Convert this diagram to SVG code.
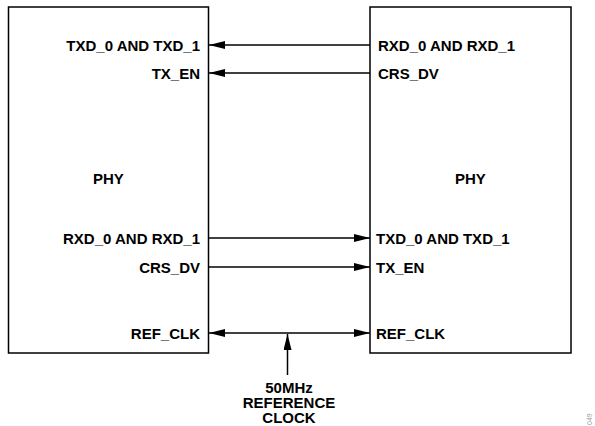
<svg xmlns="http://www.w3.org/2000/svg" width="595" height="426" viewBox="0 0 595 426">
<style>
.box{fill:#fff;stroke:#000;stroke-width:1.5}
.lbl{font-family:"Liberation Sans",Arial,sans-serif;font-weight:bold;font-size:15px;fill:#000}
.end{text-anchor:end}
.mid{text-anchor:middle}
.wire{stroke:#000;stroke-width:1.5;fill:none}
</style>
<defs>
<marker id="ah" markerWidth="16" markerHeight="8" refX="16" refY="4" orient="auto" markerUnits="userSpaceOnUse">
<path d="M0,0 L16,4 L0,8 Z" fill="#000"/>
</marker>
<marker id="ahs" markerWidth="16" markerHeight="8" refX="16" refY="4" orient="auto-start-reverse" markerUnits="userSpaceOnUse">
<path d="M0,0 L16,4 L0,8 Z" fill="#000"/>
</marker>
</defs>
<g id="phy-left">
<rect class="box" x="8.5" y="7" width="200" height="346"/>
<text class="lbl end" x="200" y="50.5">TXD_0 AND TXD_1</text>
<text class="lbl end" x="200" y="78.5">TX_EN</text>
<text class="lbl" x="93" y="184">PHY</text>
<text class="lbl end" x="200" y="243.5">RXD_0 AND RXD_1</text>
<text class="lbl end" x="200" y="272.5">CRS_DV</text>
<text class="lbl end" x="200" y="338.5">REF_CLK</text>
</g>
<g id="phy-right">
<rect class="box" x="370" y="7" width="201" height="346"/>
<text class="lbl" x="378" y="50.5">RXD_0 AND RXD_1</text>
<text class="lbl" x="378" y="78.5">CRS_DV</text>
<text class="lbl" x="455" y="184">PHY</text>
<text class="lbl" x="376" y="243.5">TXD_0 AND TXD_1</text>
<text class="lbl" x="376" y="272.5">TX_EN</text>
<text class="lbl" x="376" y="338.5">REF_CLK</text>
</g>
<g id="clock-source">
<text class="lbl mid" x="289" y="392.5">50MHz</text>
<text class="lbl mid" x="289" y="407.5">REFERENCE</text>
<text class="lbl mid" x="289" y="422.5">CLOCK</text>
</g>
<g id="connectors">
<line class="wire" x1="370" y1="45" x2="209" y2="45" marker-end="url(#ah)"/>
<line class="wire" x1="370" y1="73" x2="209" y2="73" marker-end="url(#ah)"/>
<line class="wire" x1="209" y1="238" x2="370" y2="238" marker-end="url(#ah)"/>
<line class="wire" x1="209" y1="267" x2="370" y2="267" marker-end="url(#ah)"/>
<line class="wire" x1="209" y1="333" x2="370" y2="333" marker-start="url(#ahs)" marker-end="url(#ahs)"/>
<line class="wire" x1="287.5" y1="375" x2="287.5" y2="334" marker-end="url(#ah)"/>
</g>
<text x="592" y="425" transform="rotate(-90 592 425)" style="font-family:'Liberation Sans',Arial,sans-serif;font-size:7px;fill:#999">049</text>
</svg>
